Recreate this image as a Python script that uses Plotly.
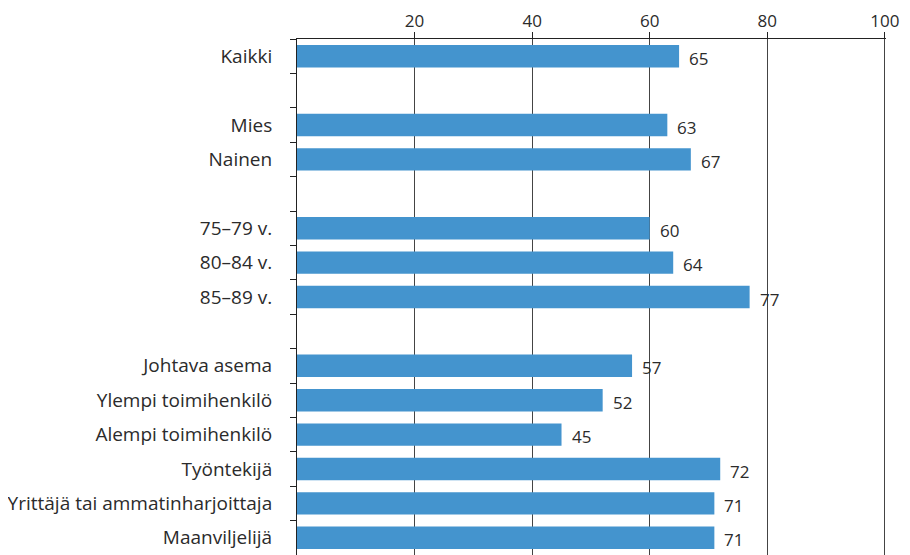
import plotly.graph_objects as go

# === Datos ===
kaikki_labels = ["Kaikki"]
kaikki_values = [65]
sukupuoli_labels = ["Mies", "Nainen"]
sukupuoli_values = [63, 67]
ika_labels = ["75–79 v.", "80–84 v.", "85–89 v."]
ika_values = [60, 64, 77]
asema_labels = ["Johtava asema", "Ylempi toimihenkilö", "Alempi toimihenkilö",
                "Työntekijä", "Yrittäjä tai ammatinharjoittaja", "Maanviljelijä"]
asema_values = [57, 52, 45, 72, 71, 71]
x_ticks = [20, 40, 60, 80, 100]

# ryhmät erotetaan tyhjillä riveillä
groups = [(kaikki_labels, kaikki_values), (sukupuoli_labels, sukupuoli_values),
          (ika_labels, ika_values), (asema_labels, asema_values)]
cats, vals = [], []
for gi, (labs, vs) in enumerate(groups):
    if gi > 0:
        cats.append(" " * gi)
        vals.append(None)
    cats += labs
    vals += vs

FONT = "Open Sans, sans-serif"
TXT = "#2b2b2b"

fig = go.Figure()
fig.add_trace(go.Bar(
    x=vals, y=cats, orientation="h",
    marker=dict(color="#4494ce", line=dict(width=0)),
    showlegend=False, hoverinfo="skip"
))

for c, v in zip(cats, vals):
    if v is None:
        continue
    fig.add_annotation(x=v, y=c, text=str(v), showarrow=False,
                       xanchor="left", yanchor="middle", xshift=8, yshift=-2,
                       font=dict(family=FONT, size=17, color=TXT))

# sivun body-marginaali (8 px) huomioitu marginaaleissa
fig.update_layout(
    width=910, height=555,
    margin=dict(l=289, r=32, t=31, b=8),
    paper_bgcolor="white", plot_bgcolor="white",
    bargap=0.35,
    xaxis=dict(
        side="top", range=[0, 100.2], tickvals=x_ticks,
        showgrid=True, gridcolor="#444444", gridwidth=1,
        showline=True, linecolor="#222222", linewidth=1,
        ticks="outside", ticklen=6, tickcolor="#222222",
        ticklabelstandoff=-2,
        tickfont=dict(family=FONT, size=17, color=TXT),
        zeroline=False, fixedrange=True, automargin=False
    ),
    yaxis=dict(
        categoryorder="array", categoryarray=cats, autorange="reversed",
        tickson="boundaries", ticks="outside", ticklen=6, tickcolor="#222222",
        showline=True, linecolor="#222222", linewidth=1,
        showgrid=False, ticklabelstandoff=20,
        tickfont=dict(family=FONT, size=19, color=TXT),
        fixedrange=True, automargin=False
    ),
)

fig.write_html("out.html")
